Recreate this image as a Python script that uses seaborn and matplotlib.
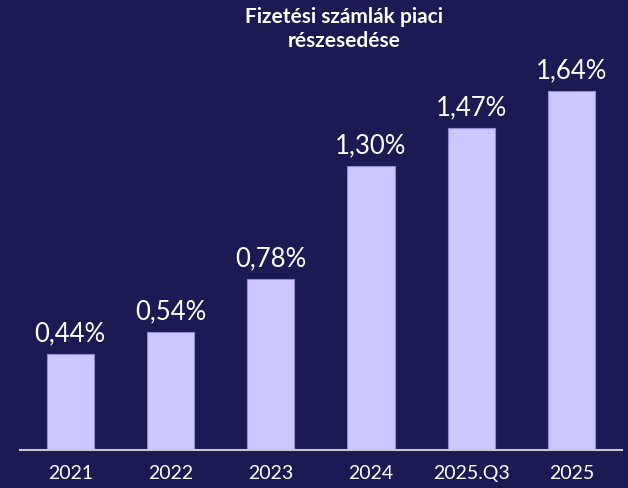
import matplotlib
matplotlib.use("Agg")
import matplotlib.pyplot as plt
import seaborn as sns
import pandas as pd

# data
periods = ["2021", "2022", "2023", "2024", "2025.Q3", "2025"]
share = [0.44, 0.54, 0.78, 1.30, 1.47, 1.64]
labels = ["0,44%", "0,54%", "0,78%", "1,30%", "1,47%", "1,64%"]

bg = "#1b1a52"
bar_color = "#ccc8ff"

sns.set_theme(style="white")
plt.rcParams["font.family"] = ["Lato", "DejaVu Sans"]

df = pd.DataFrame({"period": periods, "share": share})

fig = plt.figure(figsize=(6.28, 4.88), dpi=100, facecolor=bg)
ax = fig.add_axes([0.032, 0.078, 0.958, 0.807])
ax.set_facecolor(bg)

sns.barplot(data=df, x="period", y="share", color=bar_color, width=0.47,
            edgecolor="#8e8ad0", linewidth=0.8, saturation=1, ax=ax)

# value labels above bars
for i, (v, lab) in enumerate(zip(share, labels)):
    ax.text(i, v + 0.035, lab, ha="center", va="bottom", color="white", fontsize=18.5)

ax.set_ylim(0, 1.8)
ax.set_xlim(-0.5, 5.5)
ax.set_xlabel("")
ax.set_ylabel("")
ax.set_yticks([])
for s in ["top", "right", "left"]:
    ax.spines[s].set_visible(False)
ax.spines["bottom"].set_color("#c8c8d0")
ax.spines["bottom"].set_linewidth(1.5)
ax.tick_params(axis="x", length=0, pad=11, labelsize=14, labelcolor="white")

fig.text(0.548, 0.985, "Fizetési számlák piaci\nrészesedése", ha="center", va="top",
         color="white", fontsize=15, fontweight="bold", linespacing=1.25)

fig.savefig("out.png", dpi=100, facecolor=bg)
